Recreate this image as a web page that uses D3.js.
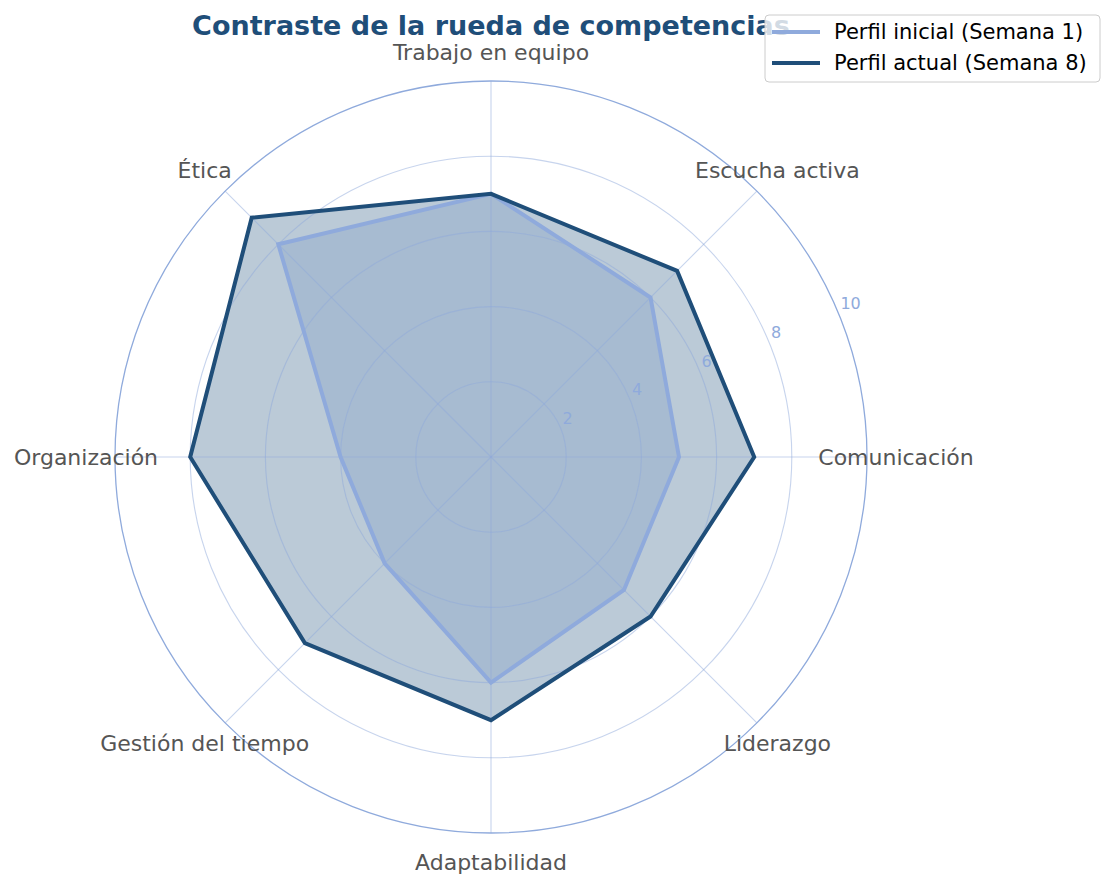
<!DOCTYPE html>
<html>
<head>
<meta charset="utf-8">
<script src="https://cdn.jsdelivr.net/npm/d3@7"></script>
<style>
  body { margin: 0; background: #fff; }
  svg text { font-family: "DejaVu Sans", sans-serif; }
</style>
</head>
<body>
<div id="chart"></div>
<script>
(function () {
  const categories = ["Comunicación", "Escucha activa", "Trabajo en equipo", "Ética",
    "Organización", "Gestión del tiempo", "Adaptabilidad", "Liderazgo"];
  const initialValues = [5, 6, 7, 8, 4, 4, 6, 5];
  const currentValues = [7, 7, 7, 9, 8, 7, 7, 6];
  const radialTicks = [2, 4, 6, 8, 10];
  const seriesNames = ["Perfil inicial (Semana 1)", "Perfil actual (Semana 8)"];

  const width = 1113, height = 886;
  const cx = 491, cy = 457, radius = 376;
  const lightBlue = "#8faadc", darkBlue = "#1f4e79";

  const svg = d3.select("#chart").append("svg")
    .attr("width", width)
    .attr("height", height);

  const g = svg.append("g")
    .attr("transform", "translate(" + cx + "," + cy + ")");

  const r = d3.scaleLinear().domain([0, 10]).range([0, radius]);
  const angle = d3.scaleLinear()
    .domain([0, categories.length])
    .range([0, 2 * Math.PI]);

  // matplotlib style: 0 at east, counter-clockwise
  function pt(i, v) {
    const a = angle(i);
    return [r(v) * Math.cos(a), -r(v) * Math.sin(a)];
  }

  const line = d3.line().curve(d3.curveLinearClosed);
  const p1 = initialValues.map((v, i) => pt(i, v));
  const p2 = currentValues.map((v, i) => pt(i, v));

  // fills
  g.append("path")
    .attr("d", line(p1))
    .attr("fill", lightBlue)
    .attr("fill-opacity", 0.25);
  g.append("path")
    .attr("d", line(p2))
    .attr("fill", darkBlue)
    .attr("fill-opacity", 0.3);

  // grid circles
  g.selectAll("circle.grid")
    .data(radialTicks)
    .join("circle")
    .attr("class", "grid")
    .attr("r", d => r(d))
    .attr("fill", "none")
    .attr("stroke", lightBlue)
    .attr("stroke-opacity", d => d === 10 ? 1 : 0.5)
    .attr("stroke-width", d => d === 10 ? 1.3 : 1.1);

  // spokes
  g.selectAll("line.spoke")
    .data(categories)
    .join("line")
    .attr("class", "spoke")
    .attr("x1", 0).attr("y1", 0)
    .attr("x2", (d, i) => pt(i, 10)[0])
    .attr("y2", (d, i) => pt(i, 10)[1])
    .attr("stroke", lightBlue)
    .attr("stroke-opacity", 0.5)
    .attr("stroke-width", 1.1);

  // outlines
  g.append("path")
    .attr("d", line(p1))
    .attr("fill", "none")
    .attr("stroke", lightBlue)
    .attr("stroke-width", 4);
  g.append("path")
    .attr("d", line(p2))
    .attr("fill", "none")
    .attr("stroke", darkBlue)
    .attr("stroke-width", 4);

  // radial tick labels at 22.5 deg
  const tickAngle = Math.PI / 8;
  g.selectAll("text.rtick")
    .data(radialTicks)
    .join("text")
    .attr("class", "rtick")
    .attr("x", d => r(d) * Math.cos(tickAngle) + 2)
    .attr("y", d => -r(d) * Math.sin(tickAngle) - 4)
    .attr("fill", lightBlue)
    .attr("font-size", 16)
    .attr("text-anchor", "start")
    .text(d => d);

  // category labels
  g.selectAll("text.cat")
    .data(categories)
    .join("text")
    .attr("class", "cat")
    .attr("x", (d, i) => 405 * Math.cos(angle(i)))
    .attr("y", (d, i) => -405 * Math.sin(angle(i)))
    .attr("text-anchor", "middle")
    .attr("dominant-baseline", "central")
    .attr("fill", "#555555")
    .attr("font-size", 22)
    .text(d => d);

  // title
  svg.append("text")
    .attr("x", 491)
    .attr("y", 35)
    .attr("text-anchor", "middle")
    .attr("font-size", 27)
    .attr("font-weight", "bold")
    .attr("fill", darkBlue)
    .text("Contraste de la rueda de competencias");

  // legend
  const legend = svg.append("g").attr("transform", "translate(765,15)");
  legend.append("rect")
    .attr("width", 335).attr("height", 67)
    .attr("rx", 4)
    .attr("fill", "#fff").attr("fill-opacity", 0.8)
    .attr("stroke", "#cccccc").attr("stroke-width", 1);
  const colors = [lightBlue, darkBlue];
  seriesNames.forEach((name, i) => {
    const y = 17 + i * 31;
    legend.append("line")
      .attr("x1", 7).attr("x2", 55)
      .attr("y1", y).attr("y2", y)
      .attr("stroke", colors[i]).attr("stroke-width", 4);
    legend.append("text")
      .attr("x", 69).attr("y", y)
      .attr("dominant-baseline", "central")
      .attr("font-size", 21)
      .attr("fill", "#000")
      .text(name);
  });
})();
</script>
</body>
</html>
